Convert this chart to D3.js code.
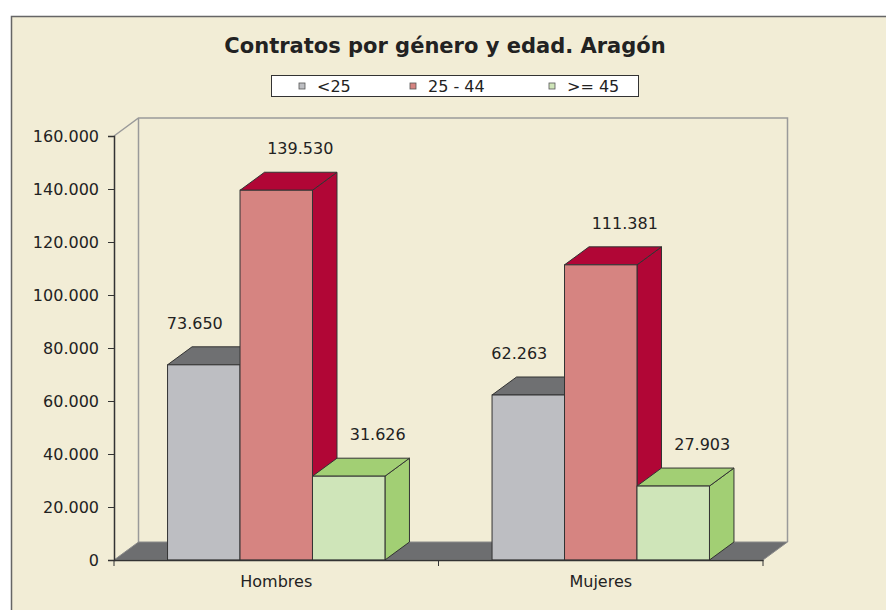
<!DOCTYPE html>
<html>
<head>
<meta charset="utf-8">
<script src="https://cdn.jsdelivr.net/npm/d3@7"></script>
<style>
  body { margin: 0; background: #fff; }
  text { font-family: "DejaVu Sans", sans-serif; fill: #222; }
</style>
</head>
<body>
<div id="chart"></div>
<script>
// data
const categories = ["Hombres", "Mujeres"];
const seriesNames = ["<25", "25 - 44", ">= 45"];
const under25 = [73650, 62263];
const from25to44 = [139530, 111381];
const over45 = [31626, 27903];
const yTicks = [0, 20000, 40000, 60000, 80000, 100000, 120000, 140000, 160000];

const seriesValues = [under25, from25to44, over45];
const colors = [
    { front: "#bdbec2", top: "#6f7072", side: "#6f7072" },
    { front: "#d68481", top: "#b10636", side: "#b10636" },
    { front: "#cfe5b9", top: "#a2cf74", side: "#a2cf74" }
];
// label offsets per series (Excel 3D label placement)
const labelShift = [-9, 24, 29];

const W = 886, H = 610;
const depth = { dx: 24.5, dy: -18 };

const es = d3.formatLocale({ decimal: ",", thousands: ".", grouping: [3], currency: ["", "€"] });
const fmt = es.format(",d");

const svg = d3.select("#chart").append("svg")
    .attr("width", W)
    .attr("height", H);

// panel
svg.append("rect")
    .attr("x", 11.5).attr("y", 16.5)
    .attr("width", W).attr("height", H)
    .attr("fill", "#f2edd6")
    .attr("stroke", "#666").attr("stroke-width", 1.5);

// title
svg.append("text")
    .attr("x", 445).attr("y", 53)
    .attr("text-anchor", "middle")
    .style("font-weight", "bold")
    .style("font-size", "21px")
    .text("Contratos por género y edad. Aragón");

// scales
const x = d3.scaleBand()
    .domain(categories)
    .range([114, 763])
    .paddingInner(0.33)
    .paddingOuter(0.165);

const x1 = d3.scaleBand()
    .domain(seriesNames)
    .range([0, x.bandwidth()]);

const y = d3.scaleLinear()
    .domain([0, 160000])
    .range([560, 136]);

const [x0, xEnd] = x.range();
const y0 = y(0), yTop = y(160000);

// back wall outline
svg.append("path")
    .attr("d", `M${x0},${yTop} L${x0 + depth.dx},${yTop + depth.dy} L${xEnd + depth.dx},${yTop + depth.dy} L${xEnd + depth.dx},${y0 + depth.dy}`)
    .attr("fill", "none")
    .attr("stroke", "#9a9a9a").attr("stroke-width", 1.5);
svg.append("line")
    .attr("x1", x0 + depth.dx).attr("x2", x0 + depth.dx)
    .attr("y1", yTop + depth.dy).attr("y2", y0 + depth.dy)
    .attr("stroke", "#9a9a9a").attr("stroke-width", 1.5);

// floor
svg.append("path")
    .attr("d", `M${x0},${y0} L${xEnd},${y0} L${xEnd + depth.dx},${y0 + depth.dy} L${x0 + depth.dx},${y0 + depth.dy} Z`)
    .attr("fill", "#6d6e70")
    .attr("stroke", "#8a8a8a").attr("stroke-width", 1);

// bars
const bars = [];
categories.forEach((c, i) => {
    seriesNames.forEach((s, j) => {
        bars.push({ cat: c, series: j, value: seriesValues[j][i] });
    });
});

const barG = svg.selectAll(".bar")
    .data(bars)
    .enter().append("g")
    .attr("class", "bar");

barG.each(function (d) {
    const g = d3.select(this);
    const bx = x(d.cat) + x1(seriesNames[d.series]);
    const bw = x1.bandwidth();
    const by = y(d.value);
    const c = colors[d.series];
    // side
    g.append("path")
        .attr("d", `M${bx + bw},${by} L${bx + bw + depth.dx},${by + depth.dy} L${bx + bw + depth.dx},${y0 + depth.dy} L${bx + bw},${y0} Z`)
        .attr("fill", c.side).attr("stroke", "#333").attr("stroke-width", 1);
    // top
    g.append("path")
        .attr("d", `M${bx},${by} L${bx + depth.dx},${by + depth.dy} L${bx + bw + depth.dx},${by + depth.dy} L${bx + bw},${by} Z`)
        .attr("fill", c.top).attr("stroke", "#333").attr("stroke-width", 1);
    // front
    g.append("rect")
        .attr("x", bx).attr("y", by)
        .attr("width", bw).attr("height", y0 - by)
        .attr("fill", c.front).attr("stroke", "#333").attr("stroke-width", 1);
});

// value labels
svg.selectAll(".value")
    .data(bars)
    .enter().append("text")
    .attr("class", "value")
    .attr("x", d => x(d.cat) + x1(seriesNames[d.series]) + x1.bandwidth() / 2 + labelShift[d.series])
    .attr("y", d => y(d.value) - 36)
    .attr("text-anchor", "middle")
    .style("font-size", "16px")
    .text(d => fmt(d.value));

// y axis
const yAxis = d3.axisLeft(y)
    .tickValues(yTicks)
    .tickFormat(d => fmt(d))
    .tickSize(6)
    .tickPadding(9);

const yg = svg.append("g")
    .attr("transform", `translate(${x0},0)`)
    .call(yAxis);
yg.select(".domain").attr("stroke", "#333").attr("stroke-width", 1.5);
yg.selectAll(".tick line").attr("stroke", "#333");
yg.selectAll("text").style("font-size", "16px").style("font-family", "DejaVu Sans").attr("fill", "#222");

// x axis
const xAxis = d3.axisBottom(x).tickSize(0).tickPadding(16);
const xg = svg.append("g")
    .attr("transform", `translate(0,${y0})`)
    .call(xAxis);
xg.select(".domain").attr("stroke", "#333").attr("stroke-width", 1.5);
xg.selectAll("text").style("font-size", "16px").style("font-family", "DejaVu Sans").attr("fill", "#222");

// category boundary ticks
const bounds = categories.map(c => x(c) - x.paddingOuter() * x.step()).concat([xEnd]);
xg.selectAll(".bound")
    .data(bounds)
    .enter().append("line")
    .attr("class", "bound")
    .attr("x1", d => d).attr("x2", d => d)
    .attr("y1", 0).attr("y2", 6)
    .attr("stroke", "#333");

// legend
const legend = svg.append("g");
legend.append("rect")
    .attr("x", 271.5).attr("y", 75.5)
    .attr("width", 367).attr("height", 21)
    .attr("fill", "#fff").attr("stroke", "#333");

const legendX = [299, 410, 549];
const items = legend.selectAll(".item")
    .data(seriesNames)
    .enter().append("g")
    .attr("class", "item")
    .attr("transform", (d, i) => `translate(${legendX[i]},86)`);
items.append("rect")
    .attr("x", 0).attr("y", -3)
    .attr("width", 6).attr("height", 6)
    .attr("fill", (d, i) => colors[i].front)
    .attr("stroke", "#555").attr("stroke-width", 0.8);
items.append("text")
    .attr("x", 18).attr("y", 6)
    .style("font-size", "16px")
    .text(d => d);
</script>
</body>
</html>
